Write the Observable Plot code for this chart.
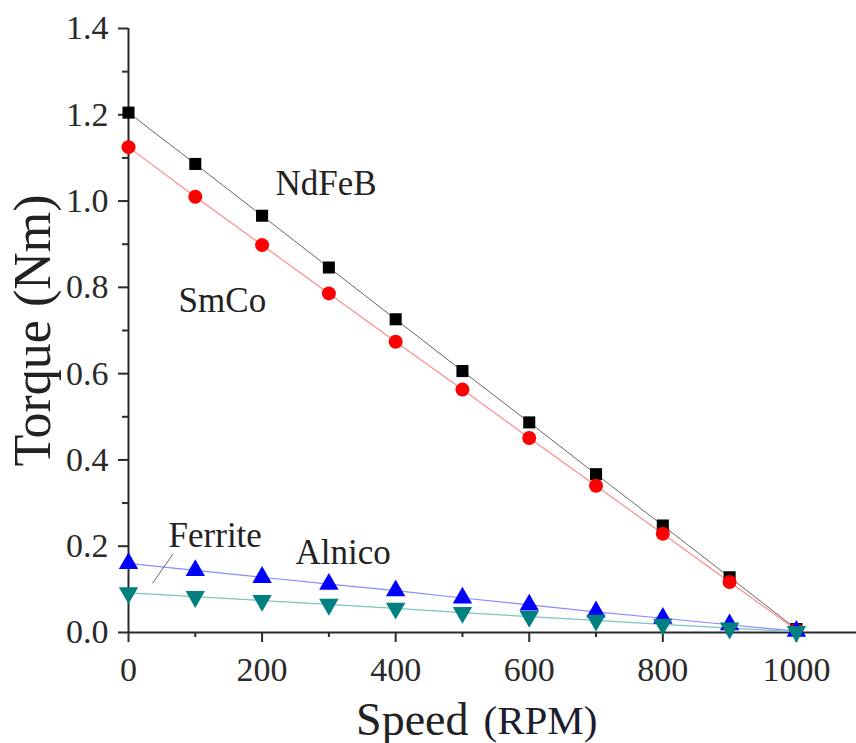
<!DOCTYPE html>
<html><head><meta charset="utf-8">
<script src="https://cdn.jsdelivr.net/npm/d3@7"></script>
<script src="https://cdn.jsdelivr.net/npm/@observablehq/plot@0.6"></script>
<style>body{margin:0;background:#fff}</style>
</head><body><div id="chart"></div>
<script>
const speeds  = [0, 100, 200, 300, 400, 500, 600, 700, 800, 900, 1000];
const ndfeb   = [1.205, 1.086, 0.966, 0.846, 0.726, 0.606, 0.487, 0.367, 0.248, 0.128, 0.008];
const smco    = [1.125, 1.010, 0.898, 0.786, 0.674, 0.563, 0.451, 0.340, 0.229, 0.117, 0.006];
const alnico  = [0.160, 0.144, 0.128, 0.112, 0.097, 0.080, 0.064, 0.048, 0.033, 0.018, 0.003];
const ferrite = [0.092, 0.083, 0.074, 0.065, 0.056, 0.046, 0.037, 0.028, 0.019, 0.010, 0.002];
const seriesNames = ["NdFeB", "SmCo", "Alnico", "Ferrite"];
const xMajor = [0, 200, 400, 600, 800, 1000];
const xMinor = [100, 300, 500, 700, 900];
const yMajor = [0, 0.2, 0.4, 0.6, 0.8, 1.0, 1.2, 1.4];
const yMinor = [0.1, 0.3, 0.5, 0.7, 0.9, 1.1, 1.3];
const xTitle = "Speed";
const xUnit = "(RPM)";
const yTitle = "Torque (Nm)";

const rows = (name, vals) => speeds.map((s, i) => ({speed: s, torque: vals[i], series: name}));
const dNd = rows(seriesNames[0], ndfeb);
const dSm = rows(seriesNames[1], smco);
const dAl = rows(seriesNames[2], alnico);
const dFe = rows(seriesNames[3], ferrite);

const axisColor = "#2a2a2a";
const plot = Plot.plot({
  width: 856, height: 743,
  marginLeft: 128, marginRight: 0, marginTop: 28, marginBottom: 111,
  style: {fontFamily: "'Liberation Serif', 'Times New Roman', serif", background: "#fff", color: axisColor},
  x: {domain: [0, 1090]},
  y: {domain: [0, 1.4]},
  marks: [
    Plot.axisX({ticks: xMajor, tickSize: 10, tickPadding: 14, fontSize: 34, stroke: axisColor, strokeWidth: 2, strokeOpacity: 1, tickFormat: d => String(d), label: null}),
    Plot.axisX({ticks: xMinor, tickSize: 5, stroke: axisColor, strokeWidth: 2, strokeOpacity: 1, tickFormat: () => "", label: null}),
    Plot.axisY({ticks: yMajor, tickSize: 10, tickPadding: 10, fontSize: 34, stroke: axisColor, strokeWidth: 2, strokeOpacity: 1, tickFormat: d3.format(".1f"), label: null}),
    Plot.axisY({ticks: yMinor, tickSize: 6, stroke: axisColor, strokeWidth: 2, strokeOpacity: 1, tickFormat: () => "", label: null}),
    Plot.ruleY([0], {stroke: axisColor, strokeWidth: 2}),
    Plot.ruleX([0], {y1: 0, y2: 1.4, stroke: axisColor, strokeWidth: 2}),
    Plot.line(dNd, {x: "speed", y: "torque", stroke: "#666", strokeWidth: 1}),
    Plot.line(dSm, {x: "speed", y: "torque", stroke: "#ff8c8c", strokeWidth: 1.2}),
    Plot.line(dAl, {x: "speed", y: "torque", stroke: "#8a8aff", strokeWidth: 1.2}),
    Plot.line(dFe, {x: "speed", y: "torque", stroke: "#7cc4bc", strokeWidth: 1.2}),
    Plot.dot(dNd, {x: "speed", y: "torque", symbol: "square", r: 6.8, fill: "#000"}),
    Plot.dot(dSm, {x: "speed", y: "torque", symbol: "circle", r: 7, fill: "#ff0000"}),
    Plot.dot(dAl, {x: "speed", y: "torque", symbol: "triangle", r: 7.2, fill: "#0000ff"}),
    Plot.dot(dFe, {x: "speed", y: "torque", symbol: "triangle", r: 7.2, rotate: 180, fill: "#008080"}),
    Plot.link([{x1: 36, y1: 0.114, x2: 67, y2: 0.183}], {x1: "x1", y1: "y1", x2: "x2", y2: "y2", stroke: "#666", strokeWidth: 1}),
    Plot.text([seriesNames[0]], {x: 220, y: 1.04, text: d => d, textAnchor: "start", fontSize: 35, fill: "#222"}),
    Plot.text([seriesNames[1]], {x: 75, y: 0.77, text: d => d, textAnchor: "start", fontSize: 35, fill: "#222"}),
    Plot.text([seriesNames[2]], {x: 250, y: 0.185, text: d => d, textAnchor: "start", fontSize: 35, fill: "#222"}),
    Plot.text([seriesNames[3]], {x: 60, y: 0.225, text: d => d, textAnchor: "start", fontSize: 35, fill: "#222"}),
    Plot.text([xTitle], {frameAnchor: "bottom-left", text: d => d, dx: 340, dy: 102, textAnchor: "end", lineAnchor: "bottom", fontSize: 46, fill: "#222"}),
    Plot.text([xUnit], {frameAnchor: "bottom-left", text: d => d, dx: 355, dy: 101, textAnchor: "start", lineAnchor: "bottom", fontSize: 41, fill: "#1c1c2e"}),
    Plot.text([yTitle], {frameAnchor: "left", text: d => d, dx: -79, rotate: -90, textAnchor: "middle", lineAnchor: "bottom", fontSize: 52, fill: "#222"})
  ]
});
document.getElementById("chart").appendChild(plot);
</script>
</body></html>
